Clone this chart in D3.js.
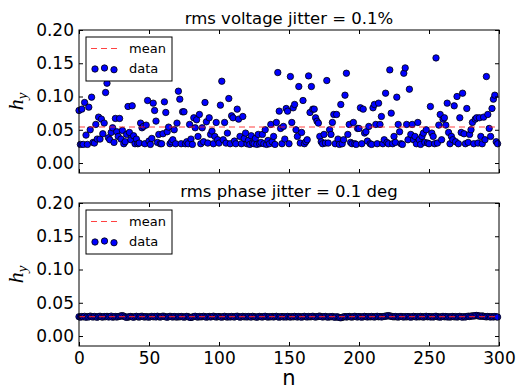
<!DOCTYPE html>
<html>
<head>
<meta charset="UTF-8">
<script src="https://d3js.org/d3.v7.min.js"></script>
<style>
  body { margin: 0; background: white; }
  svg { font-family: "DejaVu Sans", sans-serif; }
</style>
</head>
<body>
<svg id="chart"></svg>
<script>
// h_y values, rms voltage jitter = 0.1%
let voltageJitter = [
  0.079,0.028,0.081,0.028,0.091,0.042,0.028,0.084,0.050,0.099,
  0.031,0.030,0.058,0.036,0.069,0.036,0.066,0.044,0.060,0.106,
  0.120,0.038,0.035,0.046,0.053,0.031,0.067,0.047,0.040,0.067,
  0.036,0.049,0.029,0.032,0.043,0.085,0.046,0.035,0.086,0.041,
  0.029,0.036,0.029,0.030,0.060,0.053,0.055,0.029,0.057,0.094,
  0.033,0.028,0.037,0.090,0.079,0.063,0.031,0.043,0.029,0.029,
  0.044,0.092,0.076,0.047,0.054,0.029,0.032,0.035,0.050,0.029,
  0.060,0.108,0.096,0.029,0.077,0.077,0.029,0.032,0.029,0.058,
  0.036,0.028,0.068,0.053,0.065,0.040,0.073,0.029,0.053,0.032,
  0.091,0.062,0.030,0.068,0.043,0.048,0.029,0.040,0.061,0.035,
  0.030,0.087,0.123,0.035,0.061,0.030,0.045,0.097,0.029,0.071,
  0.068,0.033,0.029,0.081,0.066,0.040,0.029,0.070,0.037,0.045,
  0.029,0.034,0.028,0.041,0.030,0.029,0.037,0.028,0.043,0.029,
  0.031,0.043,0.029,0.050,0.028,0.034,0.029,0.058,0.032,0.040,
  0.028,0.061,0.136,0.078,0.052,0.029,0.055,0.036,0.082,0.078,
  0.029,0.130,0.061,0.083,0.088,0.050,0.040,0.115,0.030,0.046,
  0.094,0.029,0.032,0.035,0.131,0.076,0.115,0.081,0.081,0.068,
  0.063,0.060,0.040,0.032,0.029,0.043,0.030,0.124,0.030,0.050,
  0.043,0.061,0.073,0.029,0.073,0.036,0.028,0.088,0.029,0.035,
  0.102,0.135,0.043,0.058,0.031,0.029,0.061,0.029,0.028,0.052,
  0.052,0.083,0.029,0.081,0.045,0.047,0.033,0.055,0.029,0.028,
  0.083,0.088,0.058,0.029,0.090,0.058,0.070,0.029,0.035,0.105,
  0.031,0.029,0.140,0.075,0.029,0.040,0.031,0.099,0.058,0.047,
  0.029,0.028,0.135,0.143,0.058,0.035,0.111,0.043,0.058,0.035,
  0.040,0.029,0.061,0.035,0.028,0.040,0.045,0.031,0.050,0.030,
  0.029,0.085,0.045,0.040,0.029,0.158,0.030,0.057,0.073,0.035,
  0.066,0.068,0.057,0.090,0.046,0.029,0.040,0.035,0.086,0.032,
  0.100,0.029,0.068,0.046,0.105,0.044,0.029,0.082,0.031,0.043,
  0.050,0.061,0.029,0.066,0.068,0.030,0.068,0.040,0.029,0.069,
  0.035,0.130,0.073,0.052,0.040,0.082,0.096,0.102,0.032,0.029
];

// h_y values, rms phase jitter = 0.1 deg
let phaseJitter = [
  0.0290,0.0284,0.0293,0.0288,0.0296,0.0282,0.0291,0.0287,0.0299,0.0292,
  0.0286,0.0294,0.0289,0.0283,0.0292,0.0297,0.0288,0.0285,0.0293,0.0290,
  0.0295,0.0287,0.0291,0.0299,0.0284,0.0289,0.0293,0.0286,0.0292,0.0296,
  0.0301,0.0306,0.0298,0.0287,0.0281,0.0285,0.0290,0.0294,0.0288,0.0283,
  0.0291,0.0296,0.0289,0.0285,0.0293,0.0298,0.0290,0.0286,0.0292,0.0288,
  0.0284,0.0291,0.0295,0.0289,0.0293,0.0287,0.0297,0.0290,0.0285,0.0292,
  0.0299,0.0294,0.0288,0.0283,0.0290,0.0296,0.0291,0.0286,0.0293,0.0289,
  0.0285,0.0292,0.0288,0.0294,0.0290,0.0284,0.0289,0.0295,0.0291,0.0282,
  0.0279,0.0286,0.0292,0.0297,0.0289,0.0285,0.0293,0.0288,0.0291,0.0296,
  0.0290,0.0284,0.0289,0.0294,0.0287,0.0292,0.0298,0.0291,0.0286,0.0290,
  0.0293,0.0288,0.0284,0.0291,0.0296,0.0289,0.0285,0.0292,0.0287,0.0294,
  0.0290,0.0286,0.0293,0.0298,0.0291,0.0284,0.0289,0.0295,0.0288,0.0292,
  0.0287,0.0293,0.0290,0.0285,0.0296,0.0291,0.0288,0.0283,0.0290,0.0294,
  0.0289,0.0286,0.0292,0.0297,0.0290,0.0285,0.0291,0.0288,0.0293,0.0287,
  0.0292,0.0296,0.0289,0.0284,0.0290,0.0293,0.0287,0.0291,0.0286,0.0294,
  0.0290,0.0285,0.0292,0.0288,0.0295,0.0291,0.0286,0.0293,0.0289,0.0284,
  0.0291,0.0296,0.0290,0.0287,0.0293,0.0288,0.0292,0.0297,0.0290,0.0285,
  0.0291,0.0295,0.0299,0.0292,0.0287,0.0290,0.0294,0.0288,0.0284,0.0291,
  0.0289,0.0293,0.0287,0.0282,0.0290,0.0285,0.0279,0.0274,0.0281,0.0288,
  0.0292,0.0286,0.0290,0.0294,0.0288,0.0285,0.0291,0.0296,0.0290,0.0287,
  0.0293,0.0289,0.0284,0.0290,0.0295,0.0291,0.0287,0.0292,0.0288,0.0294,
  0.0290,0.0286,0.0291,0.0296,0.0289,0.0293,0.0287,0.0291,0.0295,0.0299,
  0.0302,0.0306,0.0301,0.0296,0.0292,0.0288,0.0293,0.0289,0.0285,0.0291,
  0.0294,0.0290,0.0286,0.0292,0.0288,0.0293,0.0289,0.0284,0.0290,0.0295,
  0.0291,0.0287,0.0292,0.0288,0.0294,0.0290,0.0285,0.0291,0.0296,0.0289,
  0.0293,0.0287,0.0291,0.0286,0.0292,0.0297,0.0290,0.0288,0.0284,0.0291,
  0.0295,0.0289,0.0293,0.0287,0.0290,0.0285,0.0291,0.0294,0.0288,0.0292,
  0.0286,0.0290,0.0295,0.0289,0.0284,0.0291,0.0287,0.0293,0.0298,0.0294,
  0.0299,0.0303,0.0301,0.0306,0.0309,0.0304,0.0300,0.0297,0.0302,0.0296,
  0.0292,0.0288,0.0294,0.0290,0.0286,0.0291,0.0287,0.0293,0.0289,0.0285
];

let titles = ["rms voltage jitter = 0.1%", "rms phase jitter = 0.1 deg"];
let xTicks = [0, 50, 100, 150, 200, 250, 300];
let yTicks = [0.00, 0.05, 0.10, 0.15, 0.20];
let legendLabels = ["mean", "data"];

let width = 516;
let height = 390;
let left = 79, right = 499;

let svg = d3.select("#chart")
            .attr("width", width)
            .attr("height", height);

let x = d3.scaleLinear().domain([0, 300]).range([left, right]);

let panels = [
  { title: titles[0], values: voltageJitter, top: 30, bottom: 173, titleY: 24, showX: false },
  { title: titles[1], values: phaseJitter, top: 203, bottom: 346, titleY: 197, showX: true }
];

panels.forEach(p => {
  let y = d3.scaleLinear().domain([-0.015, 0.2]).range([p.bottom, p.top]);
  let g = svg.append("g");

  // points
  g.selectAll("circle").data(p.values)
    .join("circle")
    .attr("cx", (d, i) => x(i))
    .attr("cy", d => y(d))
    .attr("r", 3.2)
    .attr("fill", "#0000ff")
    .attr("stroke", "black")
    .attr("stroke-width", 0.8);

  // mean line (drawn over the points like matplotlib does)
  let m = d3.mean(p.values);
  g.append("line")
    .attr("x1", x(0)).attr("x2", x(299))
    .attr("y1", y(m)).attr("y2", y(m))
    .attr("stroke", "#ff2020")
    .attr("stroke-opacity", 0.85)
    .attr("stroke-width", 1.2)
    .attr("stroke-dasharray", "6,4");

  // axes, ticks pointing inward
  let fmt = d3.format(".2f");
  let yl = g.append("g").attr("transform", `translate(${left},0)`)
    .call(d3.axisLeft(y).tickValues(yTicks).tickSize(-4).tickPadding(5).tickFormat(fmt));
  let yr = g.append("g").attr("transform", `translate(${right},0)`)
    .call(d3.axisRight(y).tickValues(yTicks).tickSize(-4).tickFormat(""));
  let xt = g.append("g").attr("transform", `translate(0,${p.top})`)
    .call(d3.axisTop(x).tickValues(xTicks).tickSize(-4).tickFormat(""));
  let xb = g.append("g").attr("transform", `translate(0,${p.bottom})`)
    .call(d3.axisBottom(x).tickValues(xTicks).tickSize(-4).tickPadding(6)
      .tickFormat(p.showX ? d3.format("d") : ""));

  [yl, yr, xt, xb].forEach(a => {
    a.select(".domain").remove();
    a.selectAll("line").attr("stroke", "black");
    a.selectAll("text").attr("font-size", 17).attr("fill", "black")
      .attr("font-family", "DejaVu Sans");
  });

  g.append("rect")
    .attr("x", left).attr("y", p.top)
    .attr("width", right - left).attr("height", p.bottom - p.top)
    .attr("fill", "none").attr("stroke", "black").attr("stroke-width", 1);

  // title
  g.append("text")
    .attr("x", (left + right) / 2).attr("y", p.titleY)
    .attr("text-anchor", "middle")
    .attr("font-size", 16.5)
    .text(p.title);

  // y label h_y
  let lab = g.append("text")
    .attr("transform", `translate(23,${(p.top + p.bottom) / 2}) rotate(-90)`)
    .attr("text-anchor", "middle")
    .attr("font-family", "Liberation Serif, serif")
    .attr("font-size", 22);
  lab.append("tspan").attr("font-style", "italic").text("h");
  lab.append("tspan").attr("font-style", "italic").attr("font-size", 15).attr("dy", 4).text("y");

  // legend
  let lx = left + 7, ly = p.top + 7;
  let leg = g.append("g").attr("transform", `translate(${lx},${ly})`);
  leg.append("rect").attr("width", 86).attr("height", 44)
    .attr("fill", "white").attr("stroke", "black").attr("stroke-width", 1);
  leg.append("line").attr("x1", 5).attr("x2", 32).attr("y1", 11.5).attr("y2", 11.5)
    .attr("stroke", "#ff2020").attr("stroke-opacity", 0.85)
    .attr("stroke-width", 1.2).attr("stroke-dasharray", "6,4");
  leg.append("text").attr("x", 43).attr("y", 16).attr("font-size", 13).text(legendLabels[0]);
  leg.selectAll("circle").data([[9, 32], [18.5, 31], [28, 32.7]])
    .join("circle")
    .attr("cx", d => d[0]).attr("cy", d => d[1]).attr("r", 3.2)
    .attr("fill", "#0000ff").attr("stroke", "black").attr("stroke-width", 0.8);
  leg.append("text").attr("x", 43).attr("y", 36).attr("font-size", 13).text(legendLabels[1]);
});

// x label
svg.append("text")
  .attr("x", (left + right) / 2).attr("y", 385)
  .attr("text-anchor", "middle")
  .attr("font-size", 21)
  .text("n");
</script>
</body>
</html>
